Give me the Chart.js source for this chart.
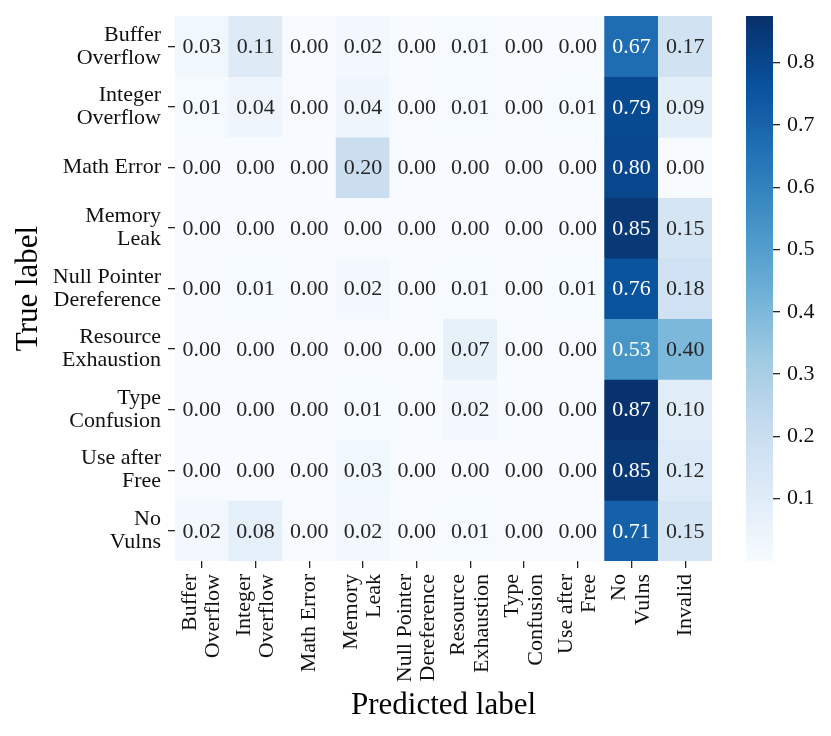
<!DOCTYPE html>
<html>
<head>
<meta charset="utf-8">
<script src="https://cdn.jsdelivr.net/npm/chart.js@4.4.1/dist/chart.umd.min.js"></script>
<style>
  html, body { margin: 0; padding: 0; background: #fff; }
  #wrap { position: relative; width: 831px; height: 736px; }
  #heat { position: absolute; left: 0; top: 0; }
  #cbar { position: absolute; left: 700px; top: 0; }
</style>
</head>
<body>
<div id="wrap">
  <canvas id="heat" width="831" height="736"></canvas>
  <canvas id="cbar" width="131" height="736"></canvas>
</div>
<script>
// labels
const rowLabels = ["Buffer\nOverflow", "Integer\nOverflow", "Math Error", "Memory\nLeak",
    "Null Pointer\nDereference", "Resource\nExhaustion", "Type\nConfusion", "Use after\nFree", "No\nVulns"];
const colLabels = ["Buffer\nOverflow", "Integer\nOverflow", "Math Error", "Memory\nLeak",
    "Null Pointer\nDereference", "Resource\nExhaustion", "Type\nConfusion", "Use after\nFree", "No\nVulns", "Invalid"];

// one row per true label
const bufferOverflow   = [0.03, 0.11, 0.00, 0.02, 0.00, 0.01, 0.00, 0.00, 0.67, 0.17];
const integerOverflow  = [0.01, 0.04, 0.00, 0.04, 0.00, 0.01, 0.00, 0.01, 0.79, 0.09];
const mathError        = [0.00, 0.00, 0.00, 0.20, 0.00, 0.00, 0.00, 0.00, 0.80, 0.00];
const memoryLeak       = [0.00, 0.00, 0.00, 0.00, 0.00, 0.00, 0.00, 0.00, 0.85, 0.15];
const nullPointer      = [0.00, 0.01, 0.00, 0.02, 0.00, 0.01, 0.00, 0.01, 0.76, 0.18];
const resourceExhaust  = [0.00, 0.00, 0.00, 0.00, 0.00, 0.07, 0.00, 0.00, 0.53, 0.40];
const typeConfusion    = [0.00, 0.00, 0.00, 0.01, 0.00, 0.02, 0.00, 0.00, 0.87, 0.10];
const useAfterFree     = [0.00, 0.00, 0.00, 0.03, 0.00, 0.00, 0.00, 0.00, 0.85, 0.12];
const noVulns          = [0.02, 0.08, 0.00, 0.02, 0.00, 0.01, 0.00, 0.00, 0.71, 0.15];

const matrix = [bufferOverflow, integerOverflow, mathError, memoryLeak, nullPointer,
    resourceExhaust, typeConfusion, useAfterFree, noVulns];

// colour range + colorbar ticks
const vmin = 0.0;
const vmax = 0.875;
const cbarTicks = [0.1, 0.2, 0.3, 0.4, 0.5, 0.6, 0.7, 0.8];

const FONT = "'Liberation Serif', 'Times New Roman', serif";
const TEXT_DARK = "#262626";

// matplotlib "Blues"
const bluesStops = [
    [247, 251, 255], [222, 235, 247], [198, 219, 239], [158, 202, 225], [107, 174, 214],
    [66, 146, 198], [33, 113, 181], [8, 81, 156], [8, 48, 107]
];

function bluesRGB(t) {
    t = Math.max(0, Math.min(1, t));
    const s = t * 8;
    const i = Math.min(7, Math.floor(s));
    const f = s - i;
    const a = bluesStops[i], b = bluesStops[i + 1];
    return [0, 1, 2].map(k => Math.round(a[k] + (b[k] - a[k]) * f));
}

function colorFor(v) {
    const c = bluesRGB((v - vmin) / (vmax - vmin));
    return `rgb(${c[0]},${c[1]},${c[2]})`;
}

// same rule seaborn uses to pick annotation colour
function textColorFor(v) {
    const c = bluesRGB((v - vmin) / (vmax - vmin)).map(x => {
        x = x / 255;
        return x <= 0.03928 ? x / 12.92 : Math.pow((x + 0.055) / 1.055, 2.4);
    });
    const lum = 0.2126 * c[0] + 0.7152 * c[1] + 0.0722 * c[2];
    return lum > 0.408 ? TEXT_DARK : "#ffffff";
}

// cell numbers + rotated x labels
const annotate = {
    id: "annotate",
    afterDatasetsDraw(chart) {
        const ctx = chart.ctx;
        const xs = chart.scales.x, ys = chart.scales.y;
        ctx.save();
        ctx.font = `22px ${FONT}`;
        ctx.textAlign = "center";
        ctx.textBaseline = "middle";
        matrix.forEach((row, r) => {
            row.forEach((v, c) => {
                ctx.fillStyle = textColorFor(v);
                ctx.fillText(v.toFixed(2), xs.getPixelForValue(c), ys.getPixelForValue(r + 0.5) + 1);
            });
        });
        ctx.restore();
    },
    afterDraw(chart) {
        const ctx = chart.ctx;
        const xs = chart.scales.x;
        const lineH = 23.5;
        const y0 = chart.chartArea.bottom + 7 + 6;
        ctx.save();
        ctx.font = `22px ${FONT}`;
        ctx.fillStyle = "#111";
        colLabels.forEach((lab, i) => {
            const lines = lab.split("\n");
            const px = xs.getPixelForValue(i);
            lines.forEach((ln, k) => {
                ctx.save();
                ctx.translate(px + (k - (lines.length - 1) / 2) * lineH, y0);
                ctx.rotate(-Math.PI / 2);
                ctx.textAlign = "right";
                ctx.textBaseline = "middle";
                ctx.fillText(ln, 0, 0);
                ctx.restore();
            });
        });
        ctx.restore();
    }
};

// one floating-bar dataset per row
const datasets = matrix.map((row, r) => ({
    data: row.map(() => [r, r + 1]),
    backgroundColor: row.map(v => colorFor(v)),
    borderWidth: 0,
    grouped: false,
    barPercentage: 1,
    categoryPercentage: 1
}));

new Chart(document.getElementById("heat"), {
    type: "bar",
    data: { labels: colLabels, datasets },
    plugins: [annotate],
    options: {
        responsive: false,
        animation: false,
        devicePixelRatio: 1,
        layout: { padding: { top: 16, right: 119, left: 0, bottom: 0 } },
        plugins: { legend: { display: false }, tooltip: { enabled: false } },
        scales: {
            x: {
                type: "category",
                grid: { offset: false, drawOnChartArea: false, drawTicks: true, tickLength: 7, color: "#262626", lineWidth: 1.3 },
                border: { display: false },
                ticks: { display: false },
                title: {
                    display: true, text: "Predicted label", color: "#000",
                    font: { family: FONT, size: 31 }, padding: { top: 0, bottom: 12 }
                },
                afterFit(scale) { scale.height = 175; scale.paddingLeft = 0; scale.paddingRight = 0; }
            },
            y: {
                type: "linear",
                reverse: true,
                min: 0,
                max: 9,
                afterBuildTicks(axis) {
                    axis.ticks = rowLabels.map((_, i) => ({ value: i + 0.5 }));
                },
                grid: { drawOnChartArea: false, drawTicks: true, tickLength: 7, color: "#262626", lineWidth: 1.3 },
                border: { display: false },
                ticks: {
                    autoSkip: false,
                    padding: 7,
                    color: "#111",
                    font: { family: FONT, size: 22, lineHeight: 1.05 },
                    callback: (v) => rowLabels[Math.floor(v)].split("\n")
                },
                title: {
                    display: true, text: "True label", color: "#000",
                    font: { family: FONT, size: 31 }, padding: { top: 10, bottom: 0 }
                },
                afterFit(scale) { scale.width = 175; scale.paddingTop = 0; scale.paddingBottom = 0; }
            }
        }
    }
});

// colorbar
new Chart(document.getElementById("cbar"), {
    type: "bar",
    data: {
        labels: [""],
        datasets: [{
            data: [[vmin, vmax]],
            borderWidth: 0,
            barPercentage: 1,
            categoryPercentage: 1,
            backgroundColor(context) {
                const area = context.chart.chartArea;
                if (!area) return colorFor(vmax);
                const g = context.chart.ctx.createLinearGradient(0, area.bottom, 0, area.top);
                bluesStops.forEach((c, i) => g.addColorStop(i / 8, `rgb(${c[0]},${c[1]},${c[2]})`));
                return g;
            }
        }]
    },
    options: {
        responsive: false,
        animation: false,
        devicePixelRatio: 1,
        layout: { padding: { top: 16, left: 46, right: 0, bottom: 175 } },
        plugins: { legend: { display: false }, tooltip: { enabled: false } },
        scales: {
            x: { display: false },
            y: {
                position: "right",
                min: vmin,
                max: vmax,
                afterBuildTicks(axis) {
                    axis.ticks = cbarTicks.map(v => ({ value: v }));
                },
                grid: { drawOnChartArea: false, drawTicks: true, tickLength: 7, color: "#262626", lineWidth: 1.3 },
                border: { display: false },
                ticks: {
                    padding: 7,
                    color: "#111",
                    font: { family: FONT, size: 22 },
                    callback: (v) => v.toFixed(1)
                },
                afterFit(scale) { scale.width = 58; scale.paddingTop = 0; scale.paddingBottom = 0; }
            }
        }
    }
});
</script>
</body>
</html>
